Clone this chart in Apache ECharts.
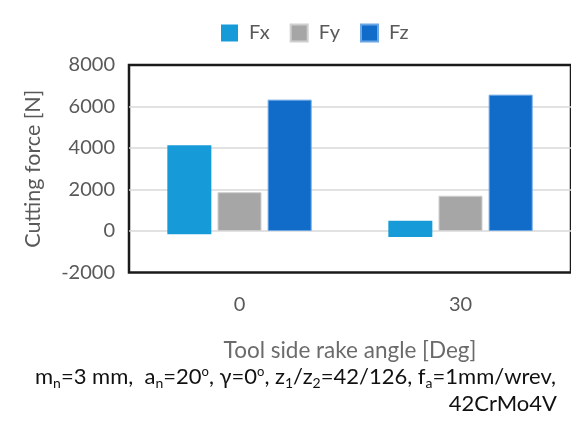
<!DOCTYPE html>
<html>
<head>
<meta charset="utf-8">
<script src="https://cdn.jsdelivr.net/npm/echarts@6/dist/echarts.min.js"></script>
<style>
html,body{margin:0;padding:0;background:#fff;}
#c{width:571px;height:426px;}
</style>
</head>
<body>
<div id="c"></div>
<script>
const categories = ['0', '30'];
const fxUpper = [4130, 490];
const fxLower = [-160, -290];
const fyValues = [1870, 1700];
const fzValues = [6330, 6570];
const yTicks = [-2000, 0, 2000, 4000, 6000, 8000];

const FONT = 'Lato, "Open Sans", sans-serif';
const chart = echarts.init(document.getElementById('c'), null, {renderer: 'canvas'});
const common = {type: 'bar', barWidth: 44, barGap: '14%'};
chart.setOption({
  animation: false,
  textStyle: {fontFamily: FONT},
  legend: {
    data: ['Fx', 'Fy', 'Fz'],
    left: 216, top: 18,
    itemWidth: 17, itemHeight: 17, itemGap: 20,
    icon: 'rect',
    textStyle: {fontSize: 20, color: '#595959', fontFamily: FONT, padding: [0, 0, 0, 6]}
  },
  grid: {
    left: 129, top: 65, width: 447, height: 207.5,
    show: true, borderColor: '#1a1a1a', borderWidth: 2.5, backgroundColor: '#fff'
  },
  xAxis: {
    type: 'category', data: categories,
    axisLine: {show: false}, axisTick: {show: false},
    axisLabel: {fontSize: 20, color: '#595959', margin: 22, fontFamily: FONT},
    name: 'Tool side rake angle [Deg]', nameLocation: 'middle', nameGap: 67,
    nameTextStyle: {fontSize: 22.5, color: '#6b6b6b', fontFamily: FONT}
  },
  yAxis: {
    type: 'value', min: yTicks[0], max: yTicks[yTicks.length - 1], interval: 2000,
    axisLine: {show: false}, axisTick: {show: false},
    axisLabel: {fontSize: 20, color: '#595959', margin: 14, fontFamily: FONT,
      formatter: function (v) { return String(v); }},
    splitLine: {showMinLine: false, showMaxLine: false, lineStyle: {color: '#d9d9d9', width: 1.5}},
    name: 'Cutting force [N]', nameLocation: 'middle', nameGap: 85, nameRotate: 90,
    nameTextStyle: {fontSize: 21.5, color: '#595959', fontFamily: FONT}
  },
  series: [
    Object.assign({}, common, {name: 'Fx', stack: 'fx', data: fxUpper,
      itemStyle: {color: '#169bd8'}}),
    Object.assign({}, common, {name: 'Fx', stack: 'fx', data: fxLower,
      itemStyle: {color: '#169bd8'}}),
    Object.assign({}, common, {name: 'Fy', data: fyValues,
      itemStyle: {color: '#a6a6a6', borderColor: '#cfcfcf', borderWidth: 1}}),
    Object.assign({}, common, {name: 'Fz', data: fzValues,
      itemStyle: {color: '#106cc8', borderColor: '#6aa6e4', borderWidth: 1}})
  ],
  graphic: [
    {
      type: 'text', left: 35, top: 365,
      style: {
        text: 'm{s|n}=3 mm,  a{s|n}=20{o|o}, γ=0{o|o}, z{s|1}/z{s|2}=42/126, f{s|a}=1mm/wrev,',
        fontSize: 22, fill: '#111', fontFamily: FONT,
        rich: {
          s: {fontSize: 14, fill: '#111', fontFamily: FONT, padding: [13, 0, 0, 0]},
          o: {fontSize: 13, fill: '#111', fontFamily: FONT, padding: [0, 0, 11, 0]}
        }
      }
    },
    {
      type: 'text', right: 14, top: 393,
      style: {text: '42CrMo4V', fontSize: 22, fill: '#111', fontFamily: FONT}
    }
  ]
});
</script>
</body>
</html>
